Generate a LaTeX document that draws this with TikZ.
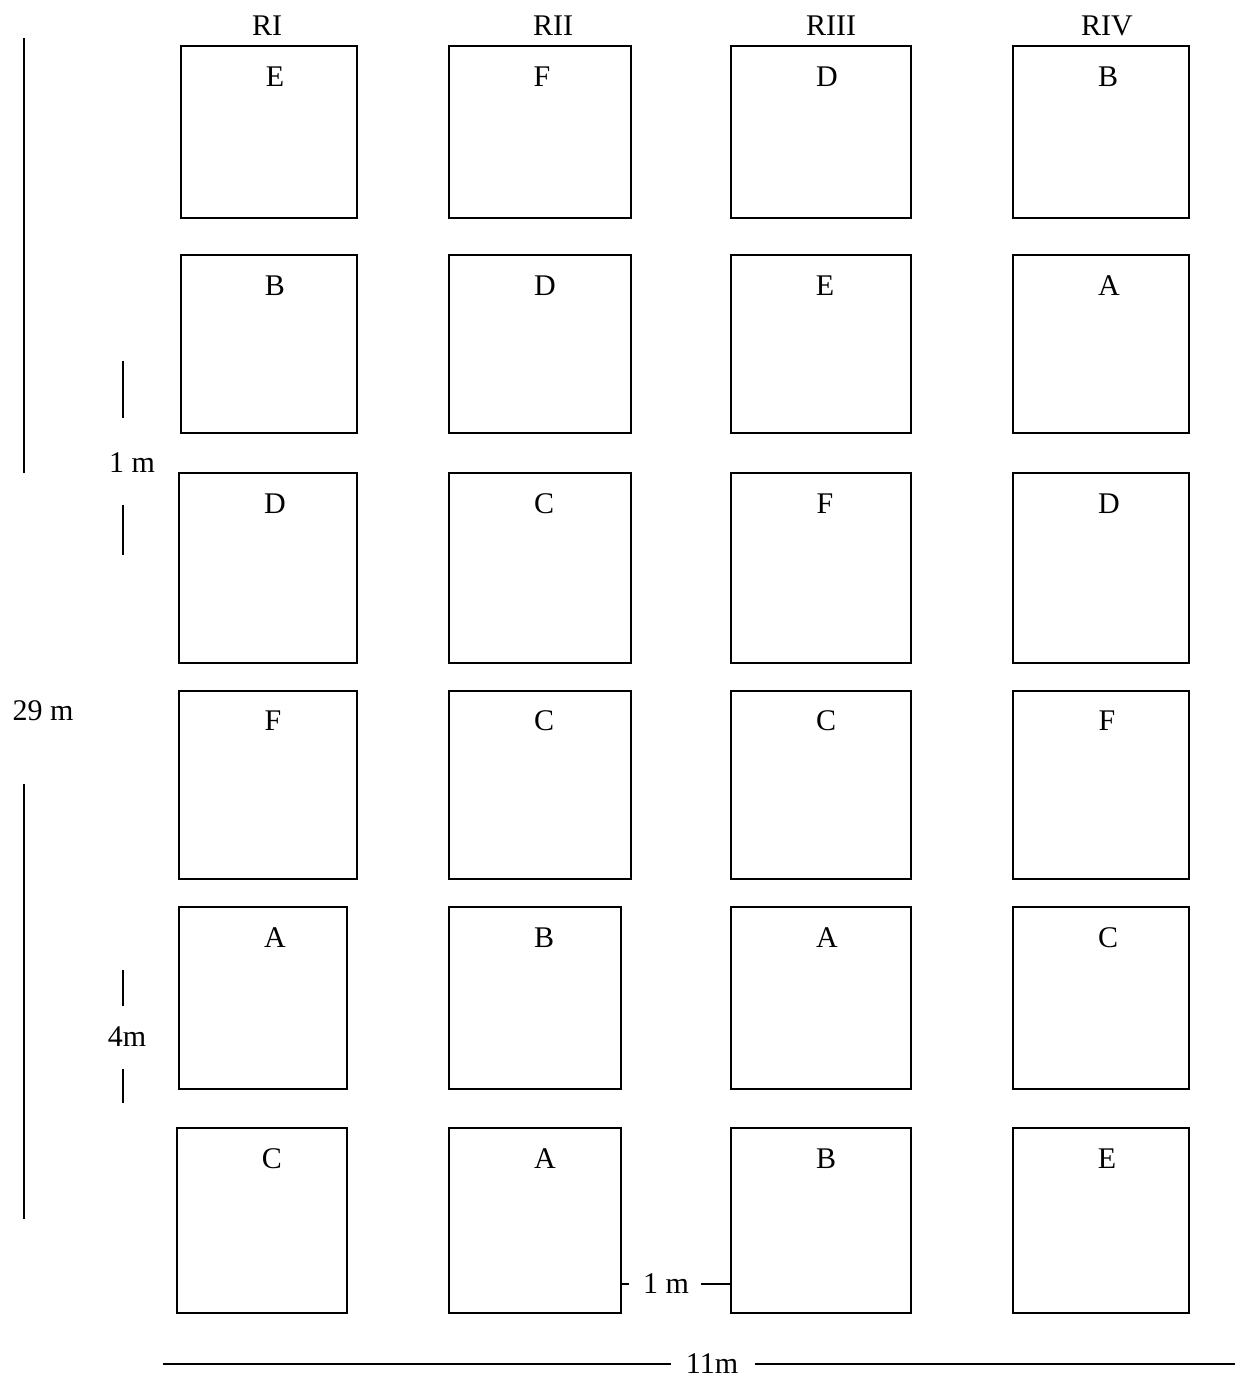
\documentclass[tikz,border=0pt]{standalone}
\usepackage{fontspec}
\setmainfont{Liberation Serif}
\newcommand\plotbox[8]{%
  \pgfmathsetmacro\pbW{#4-#2}%
  \pgfmathsetmacro\pbH{#5-#3}%
  \node[plot, minimum width=\pbW pt, minimum height=\pbH pt] (#1) at ({(#2+#4)/2},{(#3+#5)/2}) {};
  \node[lab] (#1-t) at (#7,#8) {#6};
}
\begin{document}
\begin{tikzpicture}[x=1pt,y=-1pt,
  plot/.style={draw, line width=1.8pt, rectangle, inner sep=0pt, outer sep=0pt},
  lab/.style={font=\fontsize{30}{36}\selectfont, inner sep=0pt},
  dim/.style={line width=1.8pt},
  tick/.style={line width=1.5pt}]
\useasboundingbox[fill=white] (0,0) rectangle (1246,1379);

% column headers
\node[lab] (h1) at (267,26) {RI};
\node[lab] (h2) at (553,26) {RII};
\node[lab] (h3) at (831,26) {RIII};
\node[lab] (h4) at (1107,26) {RIV};

% row 1
\plotbox{r1c1}{181}{46}{357}{218}{E}{275}{77}
\plotbox{r1c2}{449}{46}{631}{218}{F}{542}{77}
\plotbox{r1c3}{731}{46}{911}{218}{D}{827}{77}
\plotbox{r1c4}{1013}{46}{1189}{218}{B}{1108}{77}
% row 2
\plotbox{r2c1}{181}{255}{357}{433}{B}{275}{286}
\plotbox{r2c2}{449}{255}{631}{433}{D}{545}{286}
\plotbox{r2c3}{731}{255}{911}{433}{E}{825}{286}
\plotbox{r2c4}{1013}{255}{1189}{433}{A}{1109}{286}
% row 3
\plotbox{r3c1}{179}{473}{357}{663}{D}{275}{504}
\plotbox{r3c2}{449}{473}{631}{663}{C}{544}{504}
\plotbox{r3c3}{731}{473}{911}{663}{F}{825}{504}
\plotbox{r3c4}{1013}{473}{1189}{663}{D}{1109}{504}
% row 4
\plotbox{r4c1}{179}{691}{357}{879}{F}{273}{721}
\plotbox{r4c2}{449}{691}{631}{879}{C}{544}{721}
\plotbox{r4c3}{731}{691}{911}{879}{C}{826}{721}
\plotbox{r4c4}{1013}{691}{1189}{879}{F}{1107}{721}
% row 5
\plotbox{r5c1}{179}{907}{347}{1089}{A}{275}{938}
\plotbox{r5c2}{449}{907}{621}{1089}{B}{544}{938}
\plotbox{r5c3}{731}{907}{911}{1089}{A}{827}{938}
\plotbox{r5c4}{1013}{907}{1189}{1089}{C}{1108}{938}
% row 6
\plotbox{r6c1}{177}{1128}{347}{1313}{C}{272}{1159}
\plotbox{r6c2}{449}{1128}{621}{1313}{A}{545}{1159}
\plotbox{r6c3}{731}{1128}{911}{1313}{B}{826}{1159}
\plotbox{r6c4}{1013}{1128}{1189}{1313}{E}{1107}{1159}

% 29 m total length
\node[lab] (len) at (43,711) {29 m};
\coordinate (la0) at (24,38);
\coordinate (la1) at (24,473);
\coordinate (lb0) at (24,784);
\coordinate (lb1) at (24,1219);
\draw[dim] (la0) -- (la1);
\draw[dim] (lb0) -- (lb1);

% 1 m gap (vertical)
\node[lab] (gap) at (132,463) {1 m};
\coordinate (ga0) at (123,361);
\coordinate (ga1) at (123,418);
\coordinate (gb0) at (123,505);
\coordinate (gb1) at (123,555);
\draw[tick] (ga0) -- (ga1);
\draw[tick] (gb0) -- (gb1);

% 4m plot length
\node[lab] (plen) at (127,1037) {4m};
\coordinate (pa0) at (123,970);
\coordinate (pa1) at (123,1006);
\coordinate (pb0) at (123,1069);
\coordinate (pb1) at (123,1103);
\draw[tick] (pa0) -- (pa1);
\draw[tick] (pb0) -- (pb1);

% 1 m gap (horizontal)
\node[lab] (hgap) at (666,1284) {1 m};
\coordinate (hg0) at (629,1284);
\coordinate (hg1) at (701,1284);
\draw[tick] (r6c2.east |- hg0) -- (hg0);
\draw[tick] (hg1) -- (r6c3.west |- hg1);

% 11m total width
\node[lab] (wid) at (712,1364) {11m};
\coordinate (w0) at (163,1364);
\coordinate (w1) at (1235,1364);
\draw[dim] (w0) -- ([xshift=-15pt]wid.west);
\draw[dim] ([xshift=17pt]wid.east) -- (w1);
\end{tikzpicture}
\end{document}
